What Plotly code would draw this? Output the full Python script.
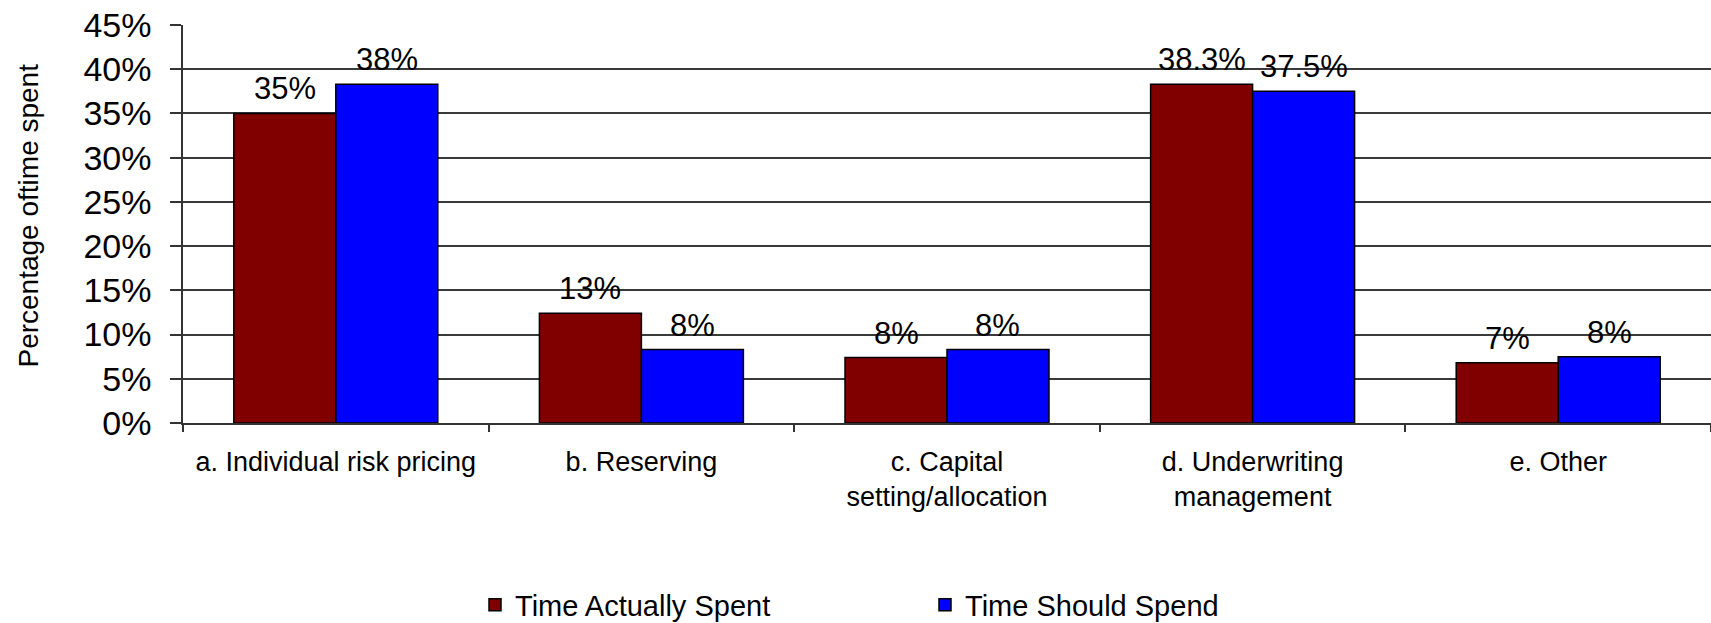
import plotly.graph_objects as go

categories = ["a. Individual risk pricing", "b. Reserving", "c. Capital<br>setting/allocation",
              "d. Underwriting<br>management", "e. Other"]
actual_values = [35.0, 12.4, 7.4, 38.3, 6.8]
should_values = [38.3, 8.3, 8.3, 37.5, 7.5]
actual_labels = ["35%", "13%", "8%", "38.3%", "7%"]
should_labels = ["38%", "8%", "8%", "37.5%", "8%"]
series_names = ["Time Actually Spent", "Time Should Spend"]
y_ticks = [0, 5, 10, 15, 20, 25, 30, 35, 40, 45]

FONT = "Liberation Sans, Arial, sans-serif"
W, H = 1711, 623
ML, MR, MT, MB = 183, 0, 25, 200
BARGAP = 0.3325
cat_px = (W - ML - MR) / len(categories)
bar_px = cat_px * (1 - BARGAP) / 2

fig = go.Figure()
fig.add_trace(go.Bar(x=categories, y=actual_values, name=series_names[0],
                     marker=dict(color="#800000", line=dict(color="#000000", width=1.5))))
fig.add_trace(go.Bar(x=categories, y=should_values, name=series_names[1],
                     marker=dict(color="#0000FF", line=dict(color="#000000", width=1.5))))

for vals, labs, sign in [(actual_values, actual_labels, -1), (should_values, should_labels, 1)]:
    for c, v, t in zip(categories, vals, labs):
        fig.add_annotation(x=c, y=v, text=t, showarrow=False, yanchor="bottom",
                           xshift=sign * bar_px / 2, yshift=5,
                           font=dict(family=FONT, size=31, color="#000000"))

fig.add_annotation(xref="paper", yref="paper", x=(28.5 - ML) / (W - ML - MR), y=0.52,
                   xanchor="center", yanchor="middle",
                   text="Percentage oftime spent", textangle=-90, showarrow=False,
                   font=dict(family=FONT, size=28, color="#000000"))

fig.update_layout(
    width=W, height=H,
    margin=dict(l=ML, r=MR, t=MT, b=MB, pad=0),
    paper_bgcolor="white", plot_bgcolor="white",
    barmode="group", bargap=BARGAP, bargroupgap=0,
    font=dict(family=FONT, color="#000000"),
    showlegend=True,
    legend=dict(orientation="h", xref="container", yref="container",
                x=475 / W, y=18 / H, xanchor="left", yanchor="middle",
                entrywidth=405, entrywidthmode="pixels",
                font=dict(family=FONT, size=29, color="#000000"),
                bgcolor="rgba(0,0,0,0)"),
    xaxis=dict(type="category", showline=True, linecolor="#333333", linewidth=1.5,
               ticks="outside", ticklen=7, tickcolor="#333333", tickwidth=1.5,
               tickson="boundaries", showgrid=False,
               tickfont=dict(family=FONT, size=27, color="#000000"),
               ticklabelstandoff=14),
    yaxis=dict(range=[0, 45], tickvals=y_ticks, ticktext=[f"{v}%" for v in y_ticks],
               showline=True, linecolor="#333333", linewidth=1.5,
               ticks="outside", ticklen=11, tickcolor="#333333", tickwidth=1.5,
               showgrid=True, gridcolor="#3a3a3a", gridwidth=1.5, zeroline=False,
               tickfont=dict(family=FONT, size=34, color="#000000"),
               ticklabelstandoff=12),
)

fig.write_html("out.html")
